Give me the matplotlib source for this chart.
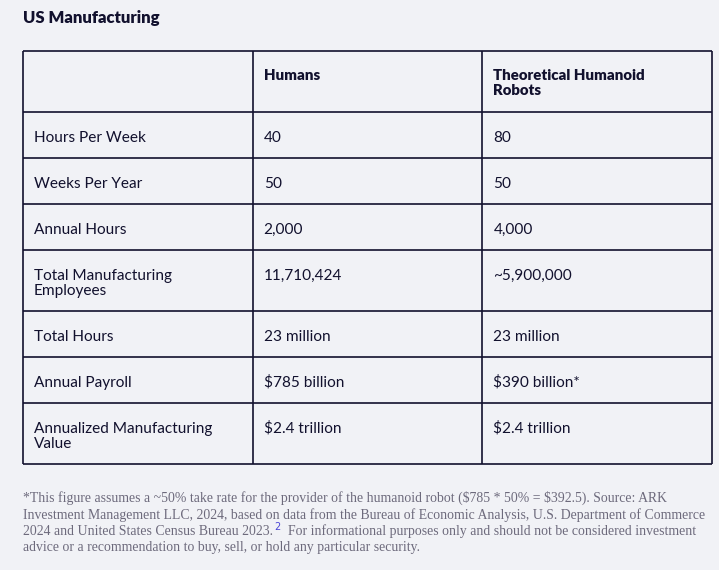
import matplotlib.pyplot as plt

plt.rcParams['text.parse_math'] = False

# ---------------- data ----------------
title = "US Manufacturing"
col_headers = ["", "Humans", "Theoretical Humanoid\nRobots"]
row_labels = ["Hours Per Week", "Weeks Per Year", "Annual Hours",
              "Total Manufacturing\nEmployees", "Total Hours", "Annual Payroll",
              "Annualized Manufacturing\nValue"]
humans = ["40", "50", "2,000", "11,710,424", "23 million", "$785 billion", "$2.4 trillion"]
robots = ["80", "50", "4,000", "~5,900,000", "23 million", "$390 billion*", "$2.4 trillion"]

foot_lines = [
    "*This figure assumes a ~50% take rate for the provider of the humanoid robot ($785 * 50% = $392.5). Source: ARK",
    "Investment Management LLC, 2024, based on data from the Bureau of Economic Analysis, U.S. Department of Commerce",
    "2024 and United States Census Bureau 2023.",
    "advice or a recommendation to buy, sell, or hold any particular security.",
]
foot_sup = "2"
foot_rest = "  For informational purposes only and should not be considered investment"

# ---------------- style ----------------
BG = "#f1f2f6"
INK = "#12112e"
GRAY = "#6d6a7c"
LINK = "#4b46d6"
W, H = 719, 570

fig = plt.figure(figsize=(W / 100, H / 100), dpi=100, facecolor=BG)
ax = fig.add_axes([0, 0, 1, 1])
ax.set_xlim(0, W)
ax.set_ylim(H, 0)
ax.axis("off")
ax.set_facecolor(BG)

ax.text(23, 23, title, fontsize=12, fontweight="heavy", family="Lato",
        color=INK, va="baseline", ha="left")

# table layout
left, right = 23, 712
col_x = [left, left + (right - left) / 3, left + 2 * (right - left) / 3, right]
top = 51
line_gap = 15
pad_x = 11

rows = [col_headers] + [[l, h, r] for l, h, r in zip(row_labels, humans, robots)]
y = top
row_edges = [y]
for i, row in enumerate(rows):
    nlines = max(c.count("\n") + 1 for c in row)
    nlines = max(nlines, 2) if i == 0 else nlines
    height = 31 + line_gap * nlines
    base = y + (29 if i == 0 else 30)
    for j, cell in enumerate(row):
        for k, part in enumerate(cell.split("\n")):
            ax.text(col_x[j] + pad_x, base + k * line_gap, part,
                    fontsize=10.8 if i == 0 else 11.1,
                    fontweight="heavy" if i == 0 else "normal",
                    family="Lato", color=INK, va="baseline", ha="left")
    y += height
    row_edges.append(y)

ax.hlines(row_edges, left, right, color=INK, lw=1.2)
ax.vlines(col_x, row_edges[0], row_edges[-1], color=INK, lw=1.2)

# footnote
fsize = 9.9
fkw = dict(fontsize=fsize, family="Liberation Serif", color=GRAY, va="baseline", ha="left")
fb = [502, 518.5, 535, 551.5]
ax.text(23, fb[0], foot_lines[0], **fkw)
ax.text(23, fb[1], foot_lines[1], **fkw)
t3 = ax.text(23, fb[2], foot_lines[2], **fkw)
sup = ax.annotate(foot_sup, xy=(1, 0), xycoords=t3, xytext=(1, 4), textcoords="offset points",
                  fontsize=7, family="DejaVu Sans", color=LINK, va="bottom", ha="left")
ax.annotate(foot_rest, xy=(1, 0), xycoords=sup, xytext=(0, -4), textcoords="offset points",
            fontsize=fsize, family="Liberation Serif", color=GRAY, va="bottom", ha="left")
ax.text(23, fb[3], foot_lines[3], **fkw)

fig.savefig("out.png", dpi=100, facecolor=BG)
